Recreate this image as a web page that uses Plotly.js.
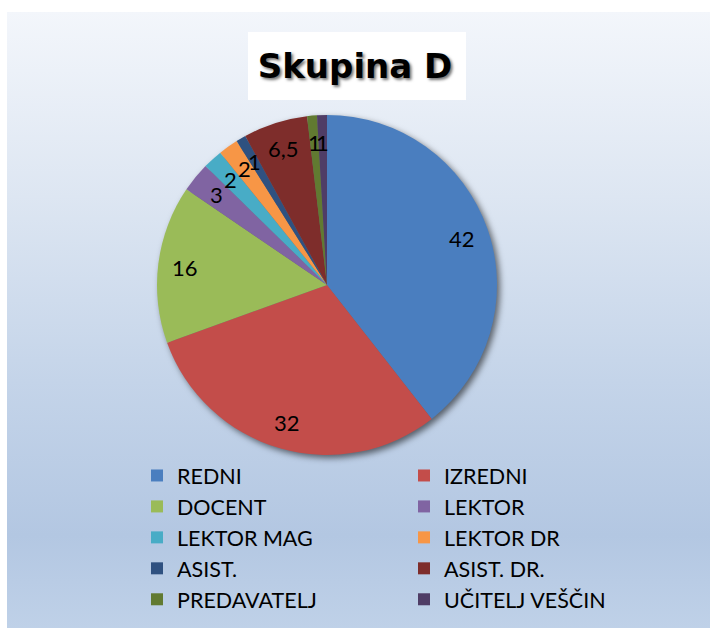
<!DOCTYPE html>
<html>
<head>
<meta charset="utf-8">
<script src="https://cdn.plot.ly/plotly-3.0.1.min.js"></script>
<style>
  html, body { margin: 0; padding: 0; background: #ffffff; }
  #bg { position: absolute; left: 7px; top: 12px; width: 703px; height: 616px;
        background: linear-gradient(to bottom, #f3f6fb 0%, #dde6f2 30%, #c4d4e9 60%, #b3c7e2 85%, #bfd1e8 100%); }
  #chart { position: absolute; left: 0; top: 0; width: 710px; height: 628px; }
  .pielayer .trace { filter: drop-shadow(3px 3px 3px rgba(0,0,0,0.55)); }
</style>
</head>
<body>
<div id="bg"></div>
<div id="chart"></div>
<script>
const categories = ['REDNI', 'IZREDNI', 'DOCENT', 'LEKTOR', 'LEKTOR MAG', 'LEKTOR DR',
                    'ASIST.', 'ASIST. DR.', 'PREDAVATELJ', 'UČITELJ VEŠČIN'];
const values = [42, 32, 16, 3, 2, 2, 1, 6.5, 1, 1];
const colors = ['#4a7ebf', '#c34d4a', '#9abb58', '#8064a2', '#48acc6', '#f79646',
                '#2f5180', '#7e2d2b', '#617a31', '#4f3d66'];
const titleText = 'Skupina D';

const W = 710, H = 628;
const domX = [0.2211, 0.7000];
const domY = [0.2755, 0.8169];

// label annotations placed along each slice's mid-angle (derived from the data)
const total = values.reduce((a, b) => a + b, 0);
const cx = (domX[0] + domX[1]) / 2, cy = (domY[0] + domY[1]) / 2;
const Rpx = Math.min((domX[1] - domX[0]) * W, (domY[1] - domY[0]) * H) / 2;
const k = 0.84;
let cum = 0;
const annotations = values.map((v) => {
  const th = 2 * Math.PI * (cum + v / 2) / total;
  cum += v;
  return {
    xref: 'paper', yref: 'paper',
    x: cx + k * Rpx * Math.sin(th) / W,
    y: cy + k * Rpx * Math.cos(th) / H,
    text: String(v).replace('.', ','),
    showarrow: false,
    xanchor: 'center', yanchor: 'middle',
    font: { family: 'Lato, sans-serif', size: 22, color: '#000000' }
  };
});

const data = [{
  type: 'pie',
  labels: categories,
  values: values,
  sort: false,
  direction: 'clockwise',
  rotation: 0,
  marker: { colors: colors, line: { width: 0 } },
  textinfo: 'none',
  hoverinfo: 'label+value',
  domain: { x: domX, y: domY }
}];

const layout = {
  width: W, height: H,
  margin: { l: 0, r: 0, t: 0, b: 0, autoexpand: false },
  paper_bgcolor: 'rgba(0,0,0,0)',
  plot_bgcolor: 'rgba(0,0,0,0)',
  title: {
    text: titleText,
    x: 355 / W, xanchor: 'center',
    y: 1 - 66 / H, yanchor: 'middle',
    font: { family: 'DejaVu Sans, sans-serif', size: 34, weight: 'bold', color: '#000000',
            shadow: '2px 2px 3px rgba(0,0,0,0.55)' }
  },
  shapes: [{
    type: 'rect', xref: 'paper', yref: 'paper', layer: 'below',
    x0: 248 / W, x1: 466 / W, y0: 1 - 100 / H, y1: 1 - 32 / H,
    fillcolor: '#ffffff', line: { width: 0 }
  }],
  showlegend: true,
  legend: {
    orientation: 'h',
    x: 137 / W, xanchor: 'left',
    y: 1 - 455 / H, yanchor: 'top',
    entrywidth: 267 / W, entrywidthmode: 'fraction',
    traceorder: 'normal',
    font: { family: 'Lato, sans-serif', size: 21.5, color: '#000000' },
    bgcolor: 'rgba(0,0,0,0)'
  },
  annotations: annotations
};

Plotly.newPlot('chart', data, layout, { displayModeBar: false, staticPlot: true });
</script>
</body>
</html>
